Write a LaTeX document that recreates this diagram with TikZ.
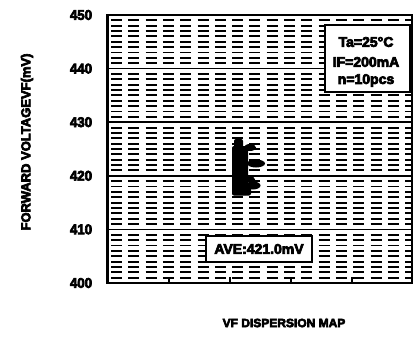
\documentclass[tikz,border=0pt]{standalone}
\usepackage{fontspec}
\newfontfamily\hv{Liberation Sans Bold}[FakeBold=5]
\begin{document}
\begin{tikzpicture}[x=1pt,y=-1pt,
  txt/.style={font=\hv\fontsize{#1}{#1}\selectfont, inner sep=0pt},
  minorline/.style={line width=1.9pt, dash pattern=on 11pt off 6.3pt, dash phase=14.3pt},
  majorline/.style={line width=1.5pt},
  framebox/.style={draw, line width=2.5pt},
  infobox/.style={draw, line width=2.2pt, fill=white, inner sep=0pt},
  dot/.style={fill=black}]
\useasboundingbox (0,0) rectangle (415,348);
\fill[white] (0,0) rectangle (415,348);
% minor dashed lines
\foreach \v in {401,...,449}{
  \pgfmathtruncatemacro\m{mod(\v,10)}
  \ifnum\m=0\relax\else
    \pgfmathsetmacro\yy{283-(\v-400)*5.36}
    \draw[minorline] (108,\yy) -- (412,\yy);
  \fi
}
% major lines
\foreach \v in {410,420,430,440}{
  \pgfmathsetmacro\yy{283-(\v-400)*5.36}
  \draw[majorline] (108,\yy) -- (412,\yy);
}
% frame
\draw[framebox] (107.5,15) rectangle (412,283);
% bottom ticks
\foreach \x in {169,230,291,352}
  \draw[line width=1.5pt] (\x,283) -- (\x,277);
% tick labels
\foreach \v/\n in {400/a,410/b,420/c,430/d,440/e,450/f}{
  \pgfmathsetmacro\yy{283-(\v-400)*5.36}
  \node[txt=14, xscale=0.95] (t\n) at (81,\yy) {\v};
}
% data cluster
\begin{scope}[dot]
\fill[rounded corners=2pt] (232,146) rectangle (248,195);
\fill[rounded corners=2pt] (234,139) rectangle (243,150);
\fill (250,147.5) ellipse [x radius=6, y radius=3.5];
\fill (256,163.5) ellipse [x radius=9, y radius=4];
\fill (250,179.5) ellipse [x radius=5, y radius=3.2];
\fill (253,185.5) ellipse [x radius=7.5, y radius=4];
\fill[rounded corners=2pt] (232,187) rectangle (251,195.5);
\end{scope}
% legend box
\node[infobox, minimum width=85pt, minimum height=67pt] (leg) at (367.5,58.5) {};
\node[txt=14] (l1) at (366,42) {Ta=25°C};
\node[txt=14] (l2) at (366,62) {IF=200mA};
\node[txt=14] (l3) at (366,80.5) {n=10pcs};
% average box
\node[infobox, minimum width=106pt, minimum height=26pt, txt=14] (ave) at (259,249) {AVE:421.0mV};
% axis label and title
\node[txt=13, rotate=90] (ylab) at (27,142) {FORWARD VOLTAGEVF(mV)};
\node[txt=12] (title) at (284,323) {VF DISPERSION MAP};
\end{tikzpicture}
\end{document}
